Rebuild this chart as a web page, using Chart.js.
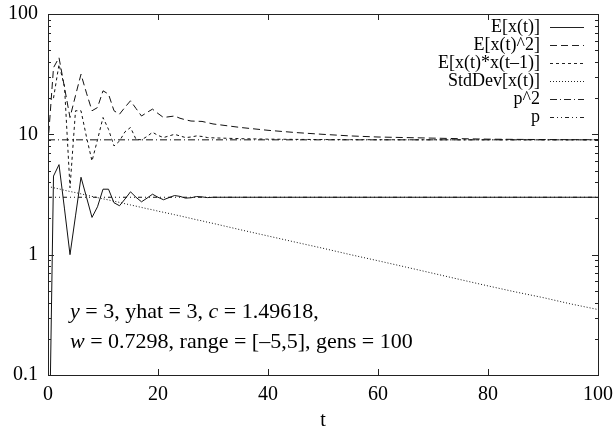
<!DOCTYPE html>
<html>
<head>
<meta charset="utf-8">
<script src="https://cdn.jsdelivr.net/npm/chart.js@4.4.0/dist/chart.umd.min.js"></script>
<style>
  html, body { margin: 0; padding: 0; background: #fff; }
</style>
</head>
<body>
<canvas id="myChart" width="614" height="437"></canvas>
<script>
// generation index
const t = [0, 1, 2, 3, 4, 5, 6, 7, 8, 9, 10, 11, 12, 13, 14, 15, 16, 17, 18, 19, 20,
    21, 22, 23, 24, 25, 26, 27, 28, 29, 30, 35, 40, 45, 50, 55, 60, 65, 70, 75, 80, 85, 90, 95, 100];

// E[x(t)]
const meanX = [0.005, 4.5, 5.6, 2.4, 1.0, 2.1, 4.4, 3.0, 2.04, 2.5, 3.5, 3.5, 2.7, 2.55, 2.9, 3.33,
    3.0, 2.75, 2.95, 3.18, 3.0, 2.86, 2.98, 3.1, 3.05, 2.95, 2.97, 3.04, 3.02, 2.98, 3.0,
    3.0, 3.0, 3.0, 3.0, 3.0, 3.0, 3.0, 3.0, 3.0, 3.0, 3.0, 3.0, 3.0, 3.0];

// E[x(t)^2]
const meanSq = [8.33, 35.8, 43.4, 24.5, 13.8, 21, 31.6, 22, 15.7, 16.7, 23, 21.6, 15.7, 14.7, 16.8, 19,
    16.4, 14.2, 15.2, 16.2, 14.9, 13.8, 14.0, 14.2, 13.6, 13.2, 12.9, 12.85, 12.8, 12.5, 12.2,
    11.4, 10.8, 10.35, 10.0, 9.7, 9.5, 9.4, 9.3, 9.2, 9.12, 9.08, 9.05, 9.03, 9.02];

// E[x(t)*x(t-1)]
const meanLag = [null, 20, 38, 25, 3.6, 15.7, 15.7, 9.5, 6.0, 9.0, 13.8, 11, 8.0, 8.8, 10.5, 11.4,
    9.1, 9.0, 9.6, 10.4, 9.8, 9.4, 9.7, 10.0, 9.7, 9.4, 9.5, 9.7, 9.6, 9.4, 9.35,
    9.2, 9.12, 9.08, 9.05, 9.03, 9.02, 9.01, 9.01, 9.0, 9.0, 9.0, 9.0, 9.0, 9.0];

// StdDev[x(t)]
const stdDev = [3.69, 3.6, 3.52, 3.43, 3.35, 3.28, 3.2, 3.13, 3.05, 2.98, 2.91, 2.85, 2.78, 2.72, 2.65, 2.59,
    2.53, 2.47, 2.41, 2.36, 2.3, 2.25, 2.2, 2.15, 2.1, 2.05, 2.0, 1.95, 1.91, 1.86, 1.82,
    1.61, 1.43, 1.27, 1.13, 1.0, 0.89, 0.79, 0.7, 0.62, 0.55, 0.49, 0.44, 0.39, 0.35];

// constant reference lines
const tEnds = [0, 100];
const pSq = [9, 9];
const p = [3, 3];

const seriesLabels = ['E[x(t)]', 'E[x(t)^2]', 'E[x(t)*x(t\u20131)]', 'StdDev[x(t)]', 'p^2', 'p'];
const seriesDash = [[], [7, 4], [3, 3], [1, 2], [7, 3, 1, 3], [4, 3, 1, 3, 1, 3]];
const xTicks = [0, 20, 40, 60, 80, 100];
const yTicks = [0.1, 1, 10, 100];

const serif = 'Liberation Serif';

function pts(xs, ys) {
    return xs.map((x, i) => ({ x: x, y: ys[i] }));
}

const seriesData = [
    pts(t, meanX), pts(t, meanSq), pts(t, meanLag), pts(t, stdDev), pts(tEnds, pSq), pts(tEnds, p)
];

const datasets = seriesData.map((d, i) => ({
    label: seriesLabels[i],
    data: d,
    borderColor: '#111',
    borderWidth: 1,
    borderDash: seriesDash[i],
    pointRadius: 0,
    tension: 0,
    fill: false,
    spanGaps: true,
}));

// frame, inward ticks, legend and note in gnuplot style
const gnuplotBits = {
    id: 'gnuplotBits',
    afterDatasetsDraw(chart) {
        const ctx = chart.ctx;
        const a = chart.chartArea;
        const xs = chart.scales.x;
        const ys = chart.scales.y;
        ctx.save();
        ctx.strokeStyle = '#222';
        ctx.lineWidth = 1;
        ctx.setLineDash([]);
        ctx.strokeRect(Math.round(a.left) + 0.5, Math.round(a.top) + 0.5,
            Math.round(a.right - a.left), Math.round(a.bottom - a.top));

        ctx.beginPath();
        xTicks.forEach(v => {
            const px = Math.round(xs.getPixelForValue(v)) + 0.5;
            ctx.moveTo(px, a.bottom); ctx.lineTo(px, a.bottom - 6);
            ctx.moveTo(px, a.top); ctx.lineTo(px, a.top + 6);
        });
        for (let d = 0.1; d < 100; d *= 10) {
            for (let m = 1; m <= 10; m++) {
                const v = d * m;
                const py = Math.round(ys.getPixelForValue(v)) + 0.5;
                const len = (m === 1 || m === 10) ? 6 : 3;
                ctx.moveTo(a.left, py); ctx.lineTo(a.left + len, py);
                ctx.moveTo(a.right, py); ctx.lineTo(a.right - len, py);
            }
        }
        ctx.stroke();

        // legend
        ctx.font = '18px "' + serif + '"';
        ctx.fillStyle = '#000';
        ctx.textAlign = 'right';
        ctx.textBaseline = 'middle';
        chart.data.datasets.forEach((ds, i) => {
            const y = 27 + i * 18;
            ctx.fillText(ds.label, 540, y);
            ctx.setLineDash(ds.borderDash);
            ctx.beginPath();
            ctx.moveTo(550, y + 0.5);
            ctx.lineTo(584, y + 0.5);
            ctx.stroke();
        });
        ctx.setLineDash([]);

        // parameter note
        const lines = [
            [['y', true], [' = 3, yhat = 3, ', false], ['c', true], [' = 1.49618,', false]],
            [['w', true], [' = 0.7298, range = [\u20135,5], gens = 100', false]]
        ];
        ctx.textAlign = 'left';
        lines.forEach((parts, li) => {
            let x = 70;
            const y = 312 + li * 30;
            parts.forEach(([s, it]) => {
                ctx.font = (it ? 'italic ' : '') + '22px "' + serif + '"';
                ctx.fillText(s, x, y);
                x += ctx.measureText(s).width;
            });
        });
        ctx.restore();
    }
};

new Chart(document.getElementById('myChart'), {
    type: 'line',
    data: { datasets: datasets },
    options: {
        responsive: false,
        animation: false,
        layout: { padding: { top: 13, right: 16, left: 0, bottom: 0 } },
        plugins: { legend: { display: false }, tooltip: { enabled: false } },
        scales: {
            x: {
                type: 'linear',
                min: 0,
                max: 100,
                afterBuildTicks: (scale) => { scale.ticks = xTicks.map(v => ({ value: v })); },
                afterFit: (scale) => { scale.height = 62; },
                ticks: { color: '#000', font: { family: serif, size: 20 }, padding: 0, maxRotation: 0 },
                grid: { display: false },
                border: { display: false },
                title: { display: true, text: 't', color: '#000', font: { family: serif, size: 20 }, padding: { top: 2 } },
            },
            y: {
                type: 'logarithmic',
                min: 0.1,
                max: 100,
                afterBuildTicks: (scale) => { scale.ticks = yTicks.map(v => ({ value: v })); },
                afterFit: (scale) => { scale.width = 48; },
                ticks: {
                    color: '#000',
                    font: { family: serif, size: 20 },
                    padding: 2,
                    callback: (v) => String(v),
                },
                grid: { display: false },
                border: { display: false },
            }
        }
    },
    plugins: [gnuplotBits]
});
</script>
</body>
</html>
